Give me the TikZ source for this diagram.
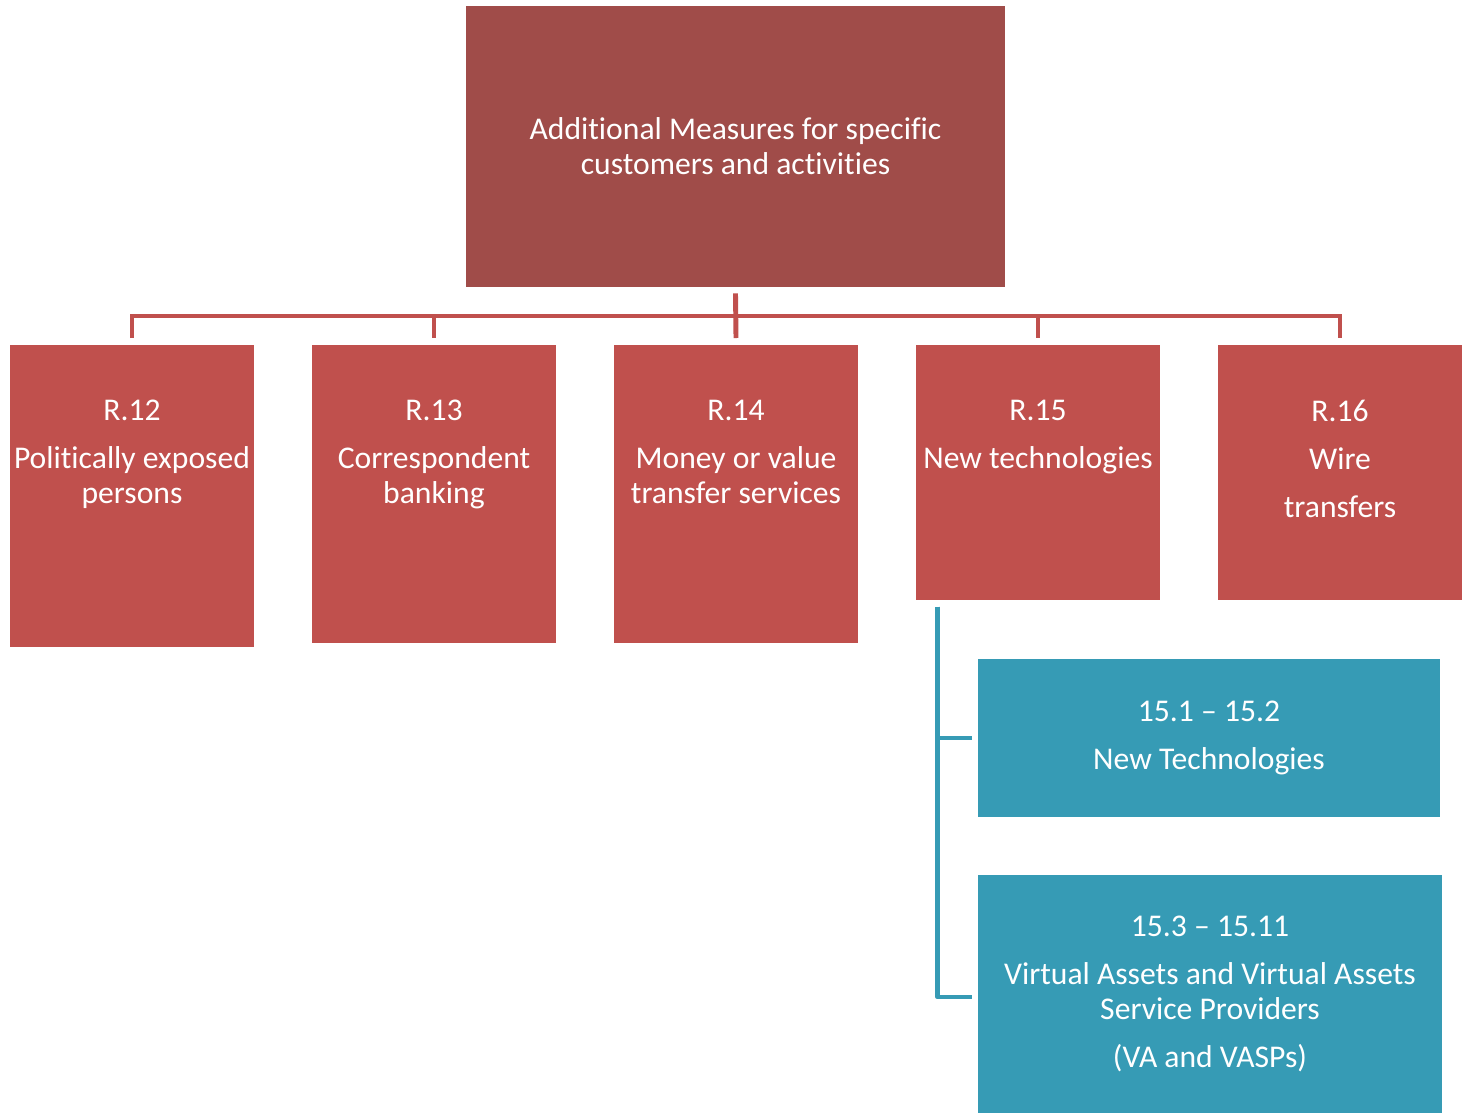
\documentclass[tikz,border=0pt]{standalone}
\usepackage{fontspec}
\setmainfont[Ligatures=NoCommon]{Carlito}
\usepackage{tikz}
\usetikzlibrary{positioning,calc}

\begin{document}
\begin{tikzpicture}[x=0.02cm,y=-0.02cm]
	\definecolor{amldark}{RGB}{160,76,73}
	\definecolor{amlred}{RGB}{192,80,77}
	\definecolor{amlblue}{RGB}{54,155,181}
	\tikzset{
		head/.style={rectangle, fill=amldark, minimum width=10.78cm,
			minimum height=5.62cm, inner sep=0pt, text=white, align=center,
			font=\fontsize{18}{20}\selectfont},
		rec/.style={rectangle, fill=amlred, minimum width=4.88cm,
			inner sep=0pt, anchor=north},
		rectxt/.style={text=white, align=center, inner sep=0pt,
			font=\fontsize{18}{20}\selectfont},
		crit/.style={rectangle, fill=amlblue, minimum width=9.24cm,
			inner sep=0pt, text=white, align=center,
			font=\fontsize{18}{20}\selectfont},
		bus/.style={draw=amlred, line width=2.8pt},
		tie/.style={draw=amlblue, line width=2.8pt, line join=round}
	}
	\useasboundingbox (0,0) rectangle (1468,1113);
	
	% TOP
	\node[head] (head) at (735.5,146.5) {Additional Measures for specific\\customers and activities};
	
	% RECOMMENDATIONS
	\node[rec, minimum height=6.04cm] (r12) at (132,345) {};
	\node[rec, minimum height=5.96cm] (r13) at (434,345) {};
	\node[rec, minimum height=5.96cm] (r14) at (736,345) {};
	\node[rec, minimum height=5.1cm] (r15) at (1038,345) {};
	\node[rec, minimum height=5.1cm] (r16) at (1340,345) {};
	
	\node[rectxt, below=1.1cm of r12.north] (r12t) {R.12\\[7.2pt]Politically exposed\\persons};
	\node[rectxt, below=1.1cm of r13.north] (r13t) {R.13\\[7.2pt]Correspondent\\banking};
	\node[rectxt, below=1.1cm of r14.north] (r14t) {R.14\\[7.2pt]Money or value\\transfer services};
	\node[rectxt, below=1.1cm of r15.north] (r15t) {R.15\\[7.2pt]New technologies};
	\node[rectxt, below=1.1cm of r16.north] (r16t) {R.16\\[7.2pt]Wire\\[7.2pt]transfers};
	
	\draw[bus] ($(head.south)+(0,6)$) -- ($(r14.north)+(0,-7)$);
	\draw[bus] ($(r12.north)+(0,-7)$) |- ($(r16.north)+(0,-29)$) -- ($(r16.north)+(0,-7)$);
	\foreach \b in {r13,r15}
		\draw[bus] ($(\b.north)+(0,-29)$) -- ($(\b.north)+(0,-7)$);
	
	% R.15 PARTS
	\node[crit, minimum height=3.16cm] (nt) at (1209,738) {15.1 – 15.2\\[7.2pt]New Technologies};
	\node[crit, minimum width=9.28cm, minimum height=4.76cm] (va) at (1210,994) {15.3 – 15.11\\[7.2pt]Virtual Assets and Virtual Assets\\Service Providers\\[7.2pt](VA and VASPs)};
	
	\draw[tie] ($(r15.south west)+(22,6)$) |- ($(nt.west)+(-6,0)$);
	\draw[tie] ($(r15.south west)+(22,6)$) |- ($(va.west)+(-6,3)$);
\end{tikzpicture}
\end{document}
